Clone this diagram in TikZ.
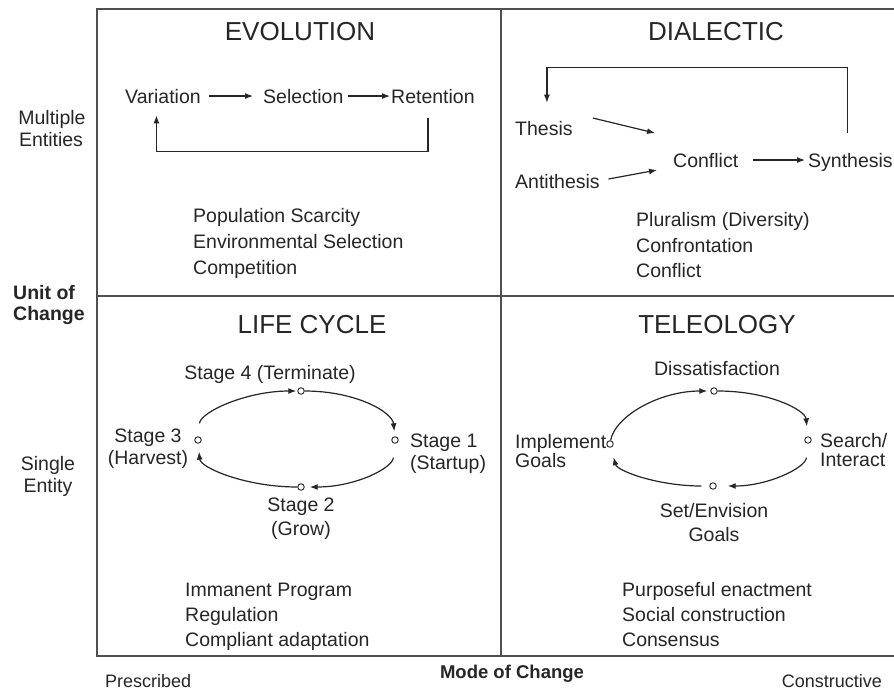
\documentclass[tikz,border=0pt]{standalone}
\usepackage{fontspec}
\setmainfont{Liberation Sans}
\usetikzlibrary{arrows.meta}
\newcommand\fsN{\fontsize{19.5}{23}\selectfont}
\newcommand\fsT{\fontsize{26}{30}\selectfont}
\newcommand\fsB{\fontsize{19.5}{23}\selectfont\bfseries}
\newcommand\fsM{\fontsize{18.5}{22}\selectfont\bfseries}
\newcommand\fsS{\fontsize{18}{22}\selectfont}
\definecolor{ink}{HTML}{262626}
\definecolor{framec}{HTML}{505050}
\begin{document}
\begin{tikzpicture}[x=1pt,y=-1pt,
  txt/.style={inner sep=0pt, font=\fsN, text=ink},
  ttl/.style={inner sep=0pt, font=\fsT, text=ink, anchor=base},
  frameline/.style={draw=framec, line width=2pt},
  arr/.style={draw=ink, line width=1.2pt, -{Latex[length=8pt,width=6pt]}},
  dot/.style={circle, draw=ink, line width=0.9pt, minimum size=6.5pt, inner sep=0pt, fill=white}]
\fill[white] (0,0) rectangle (894,691);
\useasboundingbox (0,0) rectangle (894,691);
% frame
\draw[frameline] (894,9) -- (97,9) -- (97,656) -- (894,656);
\draw[frameline] (501,9) -- (501,656);
\draw[frameline] (97,296) -- (894,296);
% titles
\node[ttl] (tev) at (300,40) {EVOLUTION};
\node[ttl] (tdi) at (716,40) {DIALECTIC};
\node[ttl] (tlc) at (312,333) {LIFE CYCLE};
\node[ttl] (tte) at (717,333) {TELEOLOGY};
% evolution
\node[txt, anchor=base west] (var) at (125,103) {Variation};
\node[txt, anchor=base west] (sel) at (263,103) {Selection};
\node[txt, anchor=base west] (ret) at (391,103) {Retention};
\draw[arr, shorten <=8pt, shorten >=10pt] (var.east) -- (sel.west);
\draw[arr, shorten <=4pt, shorten >=1pt] (sel.east) -- (ret.west);
\draw[arr] ([xshift=-5pt,yshift=-15pt]ret.south) -- ++(0,33) -| ([xshift=-6.5pt,yshift=-12pt]var.south);
\node[txt, anchor=base west] (ev1) at (193,222) {Population Scarcity};
\node[txt, anchor=base west] (ev2) at (193,248) {Environmental Selection};
\node[txt, anchor=base west] (ev3) at (193,274) {Competition};
% dialectic
\node[txt, anchor=base west] (the) at (515,135) {Thesis};
\node[txt, anchor=base west] (ant) at (515,188) {Antithesis};
\node[txt, anchor=base west] (con) at (673,167) {Conflict};
\node[txt, anchor=base west] (syn) at (808,167) {Synthesis};
\draw[arr] ([xshift=20pt,yshift=10pt]the.east) -- ([xshift=-18pt,yshift=27pt]con.west);
\draw[arr] ([xshift=8.5pt,yshift=2pt]ant.east) -- ([xshift=-16pt,yshift=-10pt]con.west);
\draw[arr, shorten <=15pt, shorten >=3pt] (con.east) -- (con.east -| syn.west);
\draw[arr] ([xshift=-3pt,yshift=20pt]syn.north) -- ++(0,-65) -| ([xshift=3pt,yshift=18pt]the.north);
\node[txt, anchor=base west] (di1) at (636,226) {Pluralism (Diversity)};
\node[txt, anchor=base west] (di2) at (636,252) {Confrontation};
\node[txt, anchor=base west] (di3) at (636,277) {Conflict};
% life cycle
\node[dot] (s4) at (301,391) {};
\node[dot] (s1) at (395,440) {};
\node[dot] (s2) at (301,487) {};
\node[dot] (s3) at (198,440) {};
\draw[arr, shorten <=13pt, shorten >=1pt] (s3) .. controls +(-85:28) and +(180:55) .. (s4);
\draw[arr, shorten >=5pt] (s4) .. controls +(0:55) and +(-95:28) .. (s1);
\draw[arr, shorten <=14pt, shorten >=5pt] (s1) .. controls +(95:28) and +(0:55) .. (s2);
\draw[arr, shorten >=8pt] (s2) .. controls +(180:55) and +(85:28) .. (s3);
\node[txt, anchor=base] (s4l) at (270,379) {Stage 4 (Terminate)};
\node[txt, anchor=base] (s3a) at (148,442) {Stage 3};
\node[txt, anchor=base] (s3b) at (148,464) {(Harvest)};
\node[txt, anchor=base west] (s1a) at (410,447) {Stage 1};
\node[txt, anchor=base west] (s1b) at (410,469) {(Startup)};
\node[txt, anchor=base] (s2a) at (301,511) {Stage 2};
\node[txt, anchor=base] (s2b) at (301,535) {(Grow)};
\node[txt, anchor=base west] (lc1) at (185,596) {Immanent Program};
\node[txt, anchor=base west] (lc2) at (185,621) {Regulation};
\node[txt, anchor=base west] (lc3) at (185,646) {Compliant adaptation};
% teleology
\node[dot] (di) at (714,391) {};
\node[dot] (se) at (808,440) {};
\node[dot] (sg) at (713,486) {};
\node[dot] (im) at (610,444) {};
\draw[arr, shorten >=3pt] (im) .. controls +(-80:28) and +(180:55) .. (di);
\draw[arr, shorten >=10pt] (di) .. controls +(0:55) and +(-95:30) .. (se);
\draw[arr, shorten <=14pt, shorten >=11pt] (se) .. controls +(95:28) and +(0:55) .. (sg);
\draw[arr, shorten <=8pt, shorten >=10pt] (sg) .. controls +(180:55) and +(75:28) .. (im);
\node[txt, anchor=base] (dil) at (717,375) {Dissatisfaction};
\node[txt, anchor=base west] (sea) at (820,447) {Search/};
\node[txt, anchor=base west] (seb) at (820,466) {Interact};
\node[txt, anchor=base west] (ima) at (515,448) {Implement};
\node[txt, anchor=base west] (imb) at (515,467) {Goals};
\node[txt, anchor=base] (sga) at (714,517) {Set/Envision};
\node[txt, anchor=base] (sgb) at (714,541) {Goals};
\node[txt, anchor=base west] (te1) at (622,596) {Purposeful enactment};
\node[txt, anchor=base west] (te2) at (622,621) {Social construction};
\node[txt, anchor=base west] (te3) at (622,646) {Consensus};
% axis labels
\node[txt, anchor=base] (mu1) at (52,124) {Multiple};
\node[txt, anchor=base] (mu2) at (51,146) {Entities};
\node[txt, anchor=base west, font=\fsB] (un1) at (13,299) {Unit of};
\node[txt, anchor=base west, font=\fsB] (un2) at (13,320) {Change};
\node[txt, anchor=base] (si1) at (48,470) {Single};
\node[txt, anchor=base] (si2) at (48,492) {Entity};
\node[txt, anchor=base west, font=\fsS] (pre) at (105,687) {Prescribed};
\node[txt, anchor=base, font=\fsM] (moc) at (512,678) {Mode of Change};
\node[txt, anchor=base east, font=\fsS] (cst) at (882,687) {Constructive};
\end{tikzpicture}
\end{document}
